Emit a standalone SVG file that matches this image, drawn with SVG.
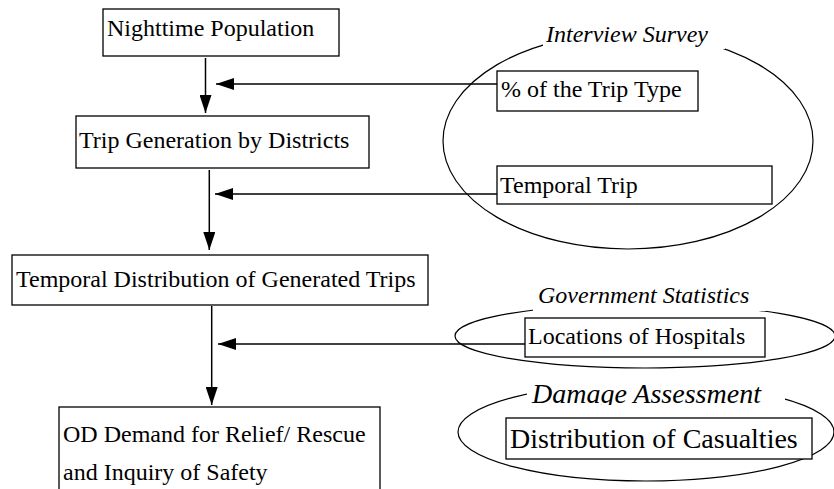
<svg xmlns="http://www.w3.org/2000/svg" width="834" height="489" viewBox="0 0 834 489">
<style>
.box{fill:#fff;stroke:#000;stroke-width:1.3}
.t{font-family:"Liberation Serif","Times New Roman",serif;font-size:24px;fill:#000}
.it{font-family:"Liberation Serif","Times New Roman",serif;font-style:italic;font-size:24px;fill:#000}
.ell{fill:none;stroke:#000;stroke-width:1.2}
.ln{fill:none;stroke:#000;stroke-width:1.5}
</style>
<defs>
<marker id="ah" viewBox="0 0 18 12" refX="18" refY="6" markerWidth="18" markerHeight="12" markerUnits="userSpaceOnUse" orient="auto">
<path d="M0,0 L18,6 L0,12 Z" fill="#000"/>
</marker>
<clipPath id="dclip"><rect x="520" y="370" width="260" height="35"/></clipPath>
</defs>
<rect width="834" height="489" fill="#fff"/>

<g id="source-interview">
<ellipse class="ell" cx="628" cy="141" rx="185" ry="108"/>
<rect x="543" y="22" width="182" height="27" fill="#fff"/>
<text class="it" x="546" y="42">Interview Survey</text>
</g>
<g id="source-government">
<ellipse class="ell" cx="645" cy="336" rx="190" ry="32"/>
<rect x="533" y="285" width="233" height="26" fill="#fff"/>
<text class="it" x="538" y="303">Government Statistics</text>
</g>
<g id="source-damage">
<ellipse class="ell" cx="646" cy="432" rx="188" ry="49"/>
<rect x="527" y="378" width="258" height="25" fill="#fff"/>
<text class="it" x="532" y="403" style="font-size:28px" clip-path="url(#dclip)">Damage Assessment</text>
</g>

<g id="connectors">
<line class="ln" x1="205.5" y1="58" x2="205.5" y2="113" marker-end="url(#ah)"/>
<line class="ln" x1="497" y1="84" x2="216" y2="84" marker-end="url(#ah)"/>
<line class="ln" x1="209.3" y1="170" x2="209.3" y2="250" marker-end="url(#ah)"/>
<line class="ln" x1="497" y1="194" x2="215" y2="194" marker-end="url(#ah)"/>
<line class="ln" x1="211.7" y1="306" x2="211.7" y2="405" marker-end="url(#ah)"/>
<line class="ln" x1="525" y1="344" x2="218" y2="344" marker-end="url(#ah)"/>
</g>

<g id="nighttime-population">
<rect class="box" x="103" y="9" width="236" height="47"/>
<text class="t" x="107" y="36">Nighttime Population</text>
</g>
<g id="trip-generation">
<rect class="box" x="76" y="116" width="293" height="52"/>
<text class="t" x="79" y="148">Trip Generation by Districts</text>
</g>
<g id="temporal-distribution">
<rect class="box" x="12" y="255" width="416" height="50"/>
<text class="t" x="16" y="287">Temporal Distribution of Generated Trips</text>
</g>
<g id="od-demand">
<rect class="box" x="59" y="407" width="321" height="100"/>
<text class="t" x="63" y="442">OD Demand for Relief/ Rescue</text>
<text class="t" x="63" y="480">and Inquiry of Safety</text>
</g>
<g id="trip-type">
<rect class="box" x="497" y="71" width="201" height="40"/>
<text class="t" x="501" y="97">% of the Trip Type</text>
</g>
<g id="temporal-trip">
<rect class="box" x="497" y="166" width="275" height="38"/>
<text class="t" x="500" y="193">Temporal Trip</text>
</g>
<g id="locations-hospitals">
<rect class="box" x="525" y="318" width="240" height="39"/>
<text class="t" x="528" y="344">Locations of Hospitals</text>
</g>
<g id="distribution-casualties">
<rect class="box" x="506" y="418" width="306" height="41"/>
<text class="t" x="510" y="448" style="font-size:28px">Distribution of Casualties</text>
</g>
</svg>
